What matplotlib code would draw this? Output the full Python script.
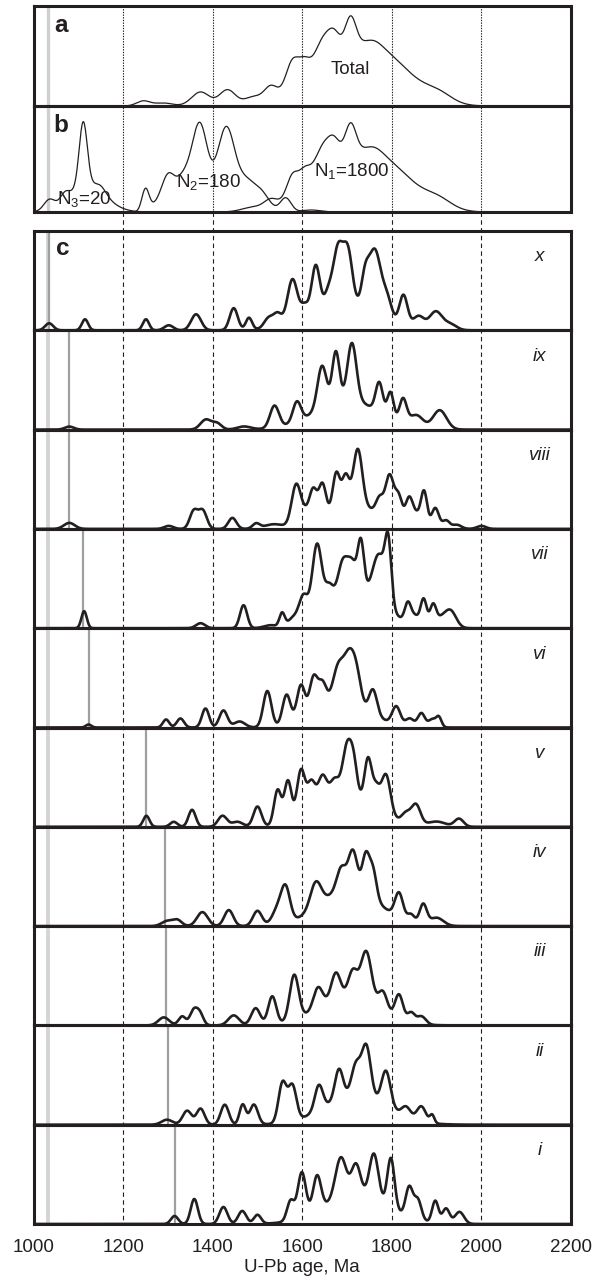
import matplotlib
matplotlib.use('Agg')
import matplotlib.pyplot as plt
import numpy as np

plt.rcParams['font.family'] = ['Liberation Sans', 'DejaVu Sans']
plt.rcParams['mathtext.fontset'] = 'custom'
plt.rcParams['mathtext.rm'] = 'Liberation Sans'

# Age densities as sums of gaussian modes: (age Ma, height, bandwidth Ma)
total_modes = [(1245, 5, 15), (1290, 3, 20), (1373, 14, 20), (1433, 16, 18),
               (1490, 8, 20), (1530, 15, 15), (1578, 30, 15), (1605, 15, 12),
               (1648, 25, 20), (1672, 12, 12), (1680, 45, 70), (1708, 30, 12),
               (1760, 6, 20), (1790, 40, 65), (1905, 8, 30)]
n1_modes = [(1490, 4, 25), (1530, 8, 15), (1578, 22, 13), (1605, 15, 12),
            (1648, 25, 20), (1672, 12, 12), (1680, 44, 70), (1708, 30, 12),
            (1760, 6, 20), (1790, 40, 65), (1905, 8, 30)]
n2_modes = [(1250, 22, 8), (1275, 6, 15), (1300, 30, 14), (1335, 25, 18),
            (1371, 65, 16), (1400, 25, 50), (1431, 63, 18), (1475, 22, 20),
            (1510, 15, 18), (1563, 14, 12), (1620, 2, 20)]
n3_modes = [(1035, 10, 12), (1070, 8, 10), (1111, 64, 9), (1120, 27, 40),
            (1150, 6, 12)]

sample_names = ['x', 'ix', 'viii', 'vii', 'vi', 'v', 'iv', 'iii', 'ii', 'i']
youngest_age = [1035, 1080, 1080, 1111, 1123, 1252, 1294, 1296, 1300, 1315]
sample_modes = [
    # x
    [(1035, 7, 9), (1115, 11, 7), (1251, 11, 7), (1302, 5, 10), (1363, 16, 11),
     (1447, 22, 9), (1481, 12, 7), (1525, 10, 10), (1545, 12, 9), (1690, 28, 75),
     (1578, 42, 11), (1605, 10, 8), (1630, 45, 9), (1658, 12, 8), (1680, 55, 11),
     (1702, 50, 10), (1740, 25, 8), (1762, 63, 14), (1790, 18, 10), (1826, 30, 9),
     (1860, 12, 12), (1898, 18, 14), (1930, 6, 14)],
    # ix
    [(1080, 3, 10), (1385, 10, 12), (1410, 6, 10), (1470, 3, 15), (1538, 22, 10),
     (1700, 30, 70), (1588, 20, 9), (1644, 42, 10), (1675, 50, 8), (1711, 57, 10),
     (1772, 30, 8), (1797, 26, 7), (1825, 24, 8), (1855, 12, 15), (1907, 19, 15)],
    # viii
    [(1080, 6, 12), (1302, 3, 10), (1358, 18, 9), (1378, 18, 9), (1444, 11, 9),
     (1497, 5, 8), (1535, 4, 20), (1720, 22, 70), (1586, 38, 10), (1610, 12, 15),
     (1625, 24, 8), (1645, 32, 8), (1676, 38, 8), (1697, 32, 8), (1724, 58, 10),
     (1773, 15, 8), (1795, 41, 9), (1815, 24, 8), (1839, 26, 8), (1856, 10, 8),
     (1872, 35, 7), (1897, 20, 8), (1921, 8, 8), (1945, 4, 10), (2000, 3, 10)],
    # vii
    [(1113, 17, 6), (1373, 5, 10), (1469, 23, 8), (1530, 3, 15), (1555, 14, 6),
     (1580, 10, 12), (1603, 30, 10), (1633, 80, 11), (1660, 30, 10), (1690, 45, 12),
     (1712, 30, 10), (1731, 50, 7), (1740, 35, 50), (1772, 45, 14), (1792, 58, 7),
     (1836, 20, 7), (1852, 9, 8), (1871, 28, 7), (1892, 22, 7), (1908, 7, 10),
     (1930, 18, 13)],
    # vi
    [(1123, 3, 6), (1296, 8, 7), (1328, 9, 8), (1384, 19, 8), (1424, 17, 9),
     (1460, 6, 12), (1522, 36, 9), (1565, 30, 9), (1690, 25, 60), (1597, 35, 9),
     (1625, 36, 9), (1645, 25, 9), (1680, 35, 12), (1705, 45, 12), (1722, 25, 10),
     (1758, 25, 9), (1810, 18, 9), (1840, 8, 9), (1866, 14, 8), (1890, 8, 8),
     (1905, 10, 6)],
    # v
    [(1252, 11, 7), (1313, 5, 8), (1354, 17, 8), (1422, 11, 10), (1455, 5, 12),
     (1500, 20, 9), (1545, 35, 8), (1568, 42, 8), (1700, 30, 65), (1597, 48, 9),
     (1620, 30, 9), (1645, 30, 10), (1672, 20, 10), (1700, 50, 10), (1715, 30, 8),
     (1747, 45, 8), (1765, 20, 8), (1787, 40, 10), (1832, 10, 10), (1854, 20, 10),
     (1900, 5, 20), (1950, 8, 10)],
    # iv
    [(1298, 5, 12), (1321, 6, 10), (1377, 14, 12), (1436, 16, 10), (1500, 15, 10),
     (1545, 15, 12), (1563, 33, 10), (1705, 38, 65), (1630, 25, 12), (1687, 22, 10),
     (1713, 38, 10), (1742, 38, 8), (1758, 28, 8), (1816, 25, 9), (1843, 8, 8),
     (1870, 20, 8), (1900, 8, 15)],
    # iii
    [(1291, 8, 12), (1332, 9, 8), (1357, 14, 8), (1371, 12, 8), (1447, 10, 12),
     (1496, 17, 10), (1533, 28, 9), (1582, 45, 10), (1700, 30, 65), (1635, 20, 10),
     (1675, 25, 10), (1713, 25, 10), (1743, 50, 12), (1780, 20, 10), (1816, 25, 9),
     (1843, 10, 8), (1866, 8, 10)],
    # ii
    [(1298, 5, 12), (1343, 14, 10), (1373, 16, 9), (1427, 20, 9), (1467, 20, 7),
     (1492, 20, 9), (1556, 40, 9), (1578, 35, 9), (1720, 30, 70), (1637, 25, 9),
     (1682, 30, 9), (1720, 30, 10), (1743, 50, 10), (1787, 35, 10), (1832, 10, 10),
     (1866, 15, 10), (1890, 8, 5)],
    # i
    [(1315, 8, 8), (1359, 25, 8), (1424, 17, 9), (1466, 13, 9), (1500, 9, 8),
     (1574, 20, 8), (1599, 45, 9), (1633, 35, 9), (1720, 30, 70), (1686, 40, 12),
     (1720, 30, 10), (1760, 45, 10), (1798, 50, 8), (1839, 30, 8), (1858, 20, 8),
     (1897, 22, 7), (1921, 15, 8), (1951, 12, 10)],
]

ref_age = 1033
grid_ages = [1200, 1400, 1600, 1800, 2000]
tick_ages = [1000, 1200, 1400, 1600, 1800, 2000, 2200]

ink = '#231f20'
t = np.arange(1000, 2200.5, 1.0)


def density(modes):
    y = np.zeros_like(t)
    for c, h, s in modes:
        y += h * np.exp(-0.5 * ((t - c) / s) ** 2)
    return y


W, H = 592, 1287
fig = plt.figure(figsize=(W / 100, H / 100), dpi=100)
left, right = 33.5, 571.0


def box(top, bottom):
    return [left / W, 1 - bottom / H, (right - left) / W, (bottom - top) / H]


def frame(ax, height):
    ax.set_xlim(1000, 2200)
    ax.set_ylim(0, height)
    ax.set_facecolor('none')
    ax.set_xticks([])
    ax.set_yticks([])
    for s in ax.spines.values():
        s.set_linewidth(2.2)
        s.set_color(ink)


# background axes in pixel rows, holds the age grid lines
bg = fig.add_axes(box(6, 1224), zorder=0)
bg.set_xlim(1000, 2200)
bg.set_ylim(1224, 6)
bg.axis('off')
bg.vlines(grid_ages, 6, 212, colors=ink, linewidth=0.8, linestyles=(0, (1.2, 1.2)))
bg.vlines(grid_ages, 212, 1224, colors=ink, linewidth=0.8, linestyles=(0, (4, 3)))

# a: all ages
ax_a = fig.add_axes(box(6, 106), zorder=1)
frame(ax_a, 100)
ax_a.axvline(ref_age, color='#cfcfcf', linewidth=2.4, zorder=1)
ax_a.plot(t, density(total_modes), color=ink, linewidth=0.9, zorder=3)
ax_a.text(0.051, 0.81, 'a', transform=ax_a.transAxes, fontsize=17.5,
          fontweight='bold', ha='center', va='center', color=ink)
ax_a.text(0.589, 0.36, 'Total', transform=ax_a.transAxes, fontsize=13.5,
          ha='center', va='center', color=ink)

# b: the three source populations
ax_b = fig.add_axes(box(106, 212), zorder=1)
frame(ax_b, 106)
ax_b.axvline(ref_age, color='#cfcfcf', linewidth=2.4, zorder=1)
for modes in (n1_modes, n2_modes, n3_modes):
    ax_b.plot(t, density(modes), color=ink, linewidth=0.9, zorder=3)
ax_b.text(0.051, 0.82, 'b', transform=ax_b.transAxes, fontsize=17.5,
          fontweight='bold', ha='center', va='center', color=ink)
ax_b.text(0.593, 0.377, r'N$_\mathregular{1}$=1800', transform=ax_b.transAxes,
          fontsize=13.5, ha='center', va='center', color=ink)
ax_b.text(0.325, 0.274, r'N$_\mathregular{2}$=180', transform=ax_b.transAxes,
          fontsize=13.5, ha='center', va='center', color=ink)
ax_b.text(0.094, 0.113, r'N$_\mathregular{3}$=20', transform=ax_b.transAxes,
          fontsize=13.5, ha='center', va='center', color=ink)

# c: ten samples stacked
c_top, c_bottom = 231.0, 1224.0
step = (c_bottom - c_top) / len(sample_names)
for k, name in enumerate(sample_names):
    ax = fig.add_axes(box(c_top + k * step, c_top + (k + 1) * step), zorder=1)
    frame(ax, step)
    ax.axvline(ref_age, color='#d4d4d4', linewidth=2.8, zorder=1)
    ax.axvline(youngest_age[k], color='#9d9fa2', linewidth=1.6, zorder=2)
    ax.plot(t, density(sample_modes[k]), color=ink, linewidth=1.9, zorder=3)
    ax.text(0.942, 0.74, name, transform=ax.transAxes, fontsize=13.5,
            style='italic', ha='center', va='center', color=ink)
    if k == 0:
        ax.text(0.054, 0.824, 'c', transform=ax.transAxes, fontsize=17.5,
                fontweight='bold', ha='center', va='center', color=ink)
    if k == len(sample_names) - 1:
        ax.set_xticks(tick_ages)
        ax.tick_params(axis='x', length=0, pad=11, labelsize=13.5, colors=ink)
        ax.set_xlabel('U-Pb age, Ma', fontsize=13.5, labelpad=2, color=ink)

fig.savefig('out.png', dpi=100)
